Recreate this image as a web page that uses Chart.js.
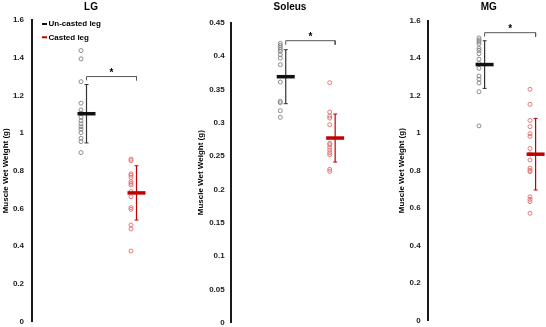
<!DOCTYPE html>
<html>
<head>
<meta charset="utf-8">
<script src="https://cdn.jsdelivr.net/npm/chart.js@4.4.1/dist/chart.umd.min.js"></script>
<style>
  body { margin: 0; background: #fff; }
  .panel { position: absolute; top: 0; width: 182px; height: 327px; }
</style>
</head>
<body>
<div class="panel" style="left:0px"><canvas id="lgChart"></canvas></div>
<div class="panel" style="left:182px"><canvas id="soleusChart"></canvas></div>
<div class="panel" style="left:364px"><canvas id="mgChart"></canvas></div>
<script>
  const FONT = "'Liberation Sans', Arial, sans-serif";
  const groups = ["Un-casted leg", "Casted leg"];

  // LG
  const lgUncasted = [1.438, 1.394, 1.273, 1.159, 1.123, 1.106, 1.084, 1.066, 1.049, 1.034, 1.021, 1.003, 0.973, 0.955, 0.897];
  const lgCasted = [0.862, 0.854, 0.784, 0.777, 0.765, 0.743, 0.734, 0.725, 0.69, 0.663, 0.605, 0.596, 0.513, 0.492, 0.375];
  const lgMean = [1.103, 0.683];
  const lgSd = [0.155, 0.144];
  const lgTicks = [0, 0.2, 0.4, 0.6, 0.8, 1, 1.2, 1.4, 1.6];

  // Soleus
  const soleusUncasted = [0.419, 0.416, 0.413, 0.41, 0.407, 0.402, 0.397, 0.387, 0.361, 0.332, 0.33, 0.318, 0.308];
  const soleusCasted = [0.36, 0.316, 0.31, 0.307, 0.297, 0.269, 0.267, 0.263, 0.259, 0.255, 0.252, 0.23, 0.227];
  const soleusMean = [0.369, 0.277];
  const soleusSd = [0.0405, 0.036];
  const soleusTicks = [0, 0.05, 0.1, 0.15, 0.2, 0.25, 0.3, 0.35, 0.4, 0.45];

  // MG
  const mgUncasted = [1.508, 1.497, 1.486, 1.475, 1.452, 1.442, 1.424, 1.395, 1.372, 1.346, 1.305, 1.288, 1.268, 1.221, 1.039];
  const mgCasted = [1.234, 1.154, 1.068, 1.035, 0.997, 0.983, 0.919, 0.889, 0.857, 0.813, 0.802, 0.795, 0.661, 0.647, 0.635, 0.573];
  const mgMean = [1.366, 0.888];
  const mgSd = [0.127, 0.191];
  const mgTicks = [0, 0.2, 0.4, 0.6, 0.8, 1, 1.2, 1.4, 1.6];

  // significance bracket height (top, tick end)
  const lgBracket = [1.30, 1.28];
  const soleusBracket = [0.423, 0.417];
  const mgBracket = [1.536, 1.515];

  const BLACK = "#111111";
  const RED = "#c00000";

  // text drawn on top: panel title, star, legend (LG only)
  const annotate = {
    id: "annotate",
    afterDraw(chart, args, opts) {
      const ctx = chart.ctx;
      const xs = chart.scales.x, ys = chart.scales.y;
      ctx.save();
      ctx.fillStyle = "#000";
      ctx.textAlign = "center";
      ctx.textBaseline = "middle";
      ctx.font = "bold 10px " + FONT;
      ctx.fillText(opts.title, opts.titleX, 7);

      // star over bracket
      const bx = (xs.getPixelForValue(1.11) + xs.getPixelForValue(2.11)) / 2;
      const by = ys.getPixelForValue(opts.bracket[0]);
      ctx.font = "bold 10px " + FONT;
      ctx.fillText("*", bx, by - 3.5);

      if (opts.legend) {
        ctx.font = "bold 8px " + FONT;
        ctx.textAlign = "left";
        [BLACK, RED].forEach((c, i) => {
          const y = 24 + i * 13.3;
          ctx.strokeStyle = c;
          ctx.lineWidth = 2;
          ctx.beginPath();
          ctx.moveTo(42, y);
          ctx.lineTo(47, y);
          ctx.stroke();
          ctx.fillStyle = "#000";
          ctx.fillText(groups[i], 48.5, y);
        });
      }
      ctx.restore();
    },
  };

  function makePanel(id, title, uncasted, casted, mean, sd, ticks, bracket, lay) {
    const datasets = [
      {
        data: uncasted.map((v) => ({ x: 1, y: v })),
        pointStyle: "circle", pointRadius: 2, pointBorderWidth: 0.9,
        pointBorderColor: "#808080", pointBackgroundColor: "rgba(0,0,0,0)",
        showLine: false, order: 3,
      },
      {
        data: casted.map((v) => ({ x: 2, y: v })),
        pointStyle: "circle", pointRadius: 2, pointBorderWidth: 0.9,
        pointBorderColor: "#e36c6c", pointBackgroundColor: "rgba(0,0,0,0)",
        showLine: false, order: 3,
      },
    ];
    // error bars
    [BLACK, RED].forEach((c, i) => {
      datasets.push({
        data: [{ x: i + 1.11, y: mean[i] - sd[i] }, { x: i + 1.11, y: mean[i] + sd[i] }],
        showLine: true, borderColor: i ? RED : "#333", borderWidth: 1.2,
        pointStyle: "line", pointRadius: 2, pointBorderWidth: 1,
        pointBorderColor: i ? RED : "#333", order: 2,
      });
    });
    // mean bars
    [BLACK, RED].forEach((c, i) => {
      datasets.push({
        data: [{ x: i + 1.11, y: mean[i] }],
        showLine: false, pointStyle: "line", pointRadius: 9,
        pointBorderWidth: 3.5, pointBorderColor: c, order: 1,
      });
    });
    // bracket
    datasets.push({
      data: [
        { x: 1.11, y: bracket[1] }, { x: 1.11, y: bracket[0] },
        { x: 2.11, y: bracket[0] }, { x: 2.11, y: bracket[1] },
      ],
      showLine: true, borderColor: "#555", borderWidth: 1, pointRadius: 0, order: 0,
    });
    datasets.forEach((d) => (d.clip = false));

    return new Chart(document.getElementById(id), {
      type: "scatter",
      data: { datasets },
      plugins: [annotate],
      options: {
        responsive: true,
        maintainAspectRatio: false,
        animation: false,
        layout: { autoPadding: false, padding: { top: lay.top, bottom: lay.bottom, left: 0, right: 0 } },
        plugins: {
          legend: { display: false },
          tooltip: { enabled: false },
          annotate: { title, titleX: lay.titleX, bracket, legend: lay.legend },
        },
        scales: {
          x: { type: "linear", display: false, min: lay.xMin, max: lay.xMax },
          y: {
            type: "linear",
            min: ticks[0],
            max: ticks[ticks.length - 1],
            afterFit: (s) => {
              s.width = lay.axisX;
              s.paddingTop = 0;
              s.paddingBottom = 0;
            },
            afterBuildTicks: (s) => { s.ticks = ticks.map((v) => ({ value: v })); },
            grid: { display: false, drawTicks: false },
            border: { display: true, color: "#1a1a1a", width: 2 },
            ticks: {
              padding: lay.tickPad,
              color: "#1a1a1a",
              font: { family: FONT, size: 8, weight: "bold" },
              callback: (v) => String(+v.toFixed(2)),
            },
            title: {
              display: true,
              text: "Muscle Wet Weight (g)",
              color: "#000",
              font: { family: FONT, size: 8, weight: "bold" },
              padding: { top: lay.titlePad, bottom: 0 },
            },
          },
        },
      },
    });
  }

  makePanel("lgChart", "LG", lgUncasted, lgCasted, lgMean, lgSd, lgTicks, lgBracket,
    { top: 20, bottom: 5.3, axisX: 32, titlePad: 1.2, tickPad: 8, xMin: 0.02, xMax: 3.02, titleX: 91, legend: true });
  makePanel("soleusChart", "Soleus", soleusUncasted, soleusCasted, soleusMean, soleusSd, soleusTicks, soleusBracket,
    { top: 22.7, bottom: 4.3, axisX: 49.3, titlePad: 14.2, tickPad: 6.6, xMin: 0.008, xMax: 2.694, titleX: 108, legend: false });
  makePanel("mgChart", "MG", mgUncasted, mgCasted, mgMean, mgSd, mgTicks, mgBracket,
    { top: 20.7, bottom: 6.3, axisX: 64.3, titlePad: 33, tickPad: 7.6, xMin: 0.006, xMax: 2.314, titleX: 124.7, legend: false });
</script>
</body>
</html>
